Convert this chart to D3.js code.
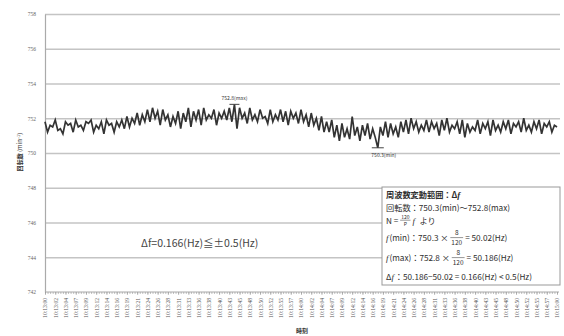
<!DOCTYPE html>
<html><head><meta charset="utf-8">
<script src="https://cdn.jsdelivr.net/npm/d3@7/dist/d3.min.js"></script>
<style>
html,body{margin:0;padding:0;background:#fff;}
svg{display:block;font-family:"Noto Sans CJK JP","Noto Sans",sans-serif;}
</style></head>
<body>
<svg id="c" width="564" height="336"></svg>
<script>
const yTicks = [742, 744, 746, 748, 750, 752, 754, 756, 758];
const xLabels = ["10:13:00","10:13:02","10:13:04","10:13:07","10:13:09","10:13:12","10:13:14","10:13:16","10:13:19","10:13:21","10:13:24","10:13:26","10:13:28","10:13:31","10:13:33","10:13:36","10:13:38","10:13:40","10:13:43","10:13:45","10:13:48","10:13:50","10:13:52","10:13:55","10:13:57","10:14:00","10:14:02","10:14:04","10:14:07","10:14:09","10:14:12","10:14:14","10:14:16","10:14:19","10:14:21","10:14:24","10:14:26","10:14:28","10:14:31","10:14:33","10:14:36","10:14:38","10:14:40","10:14:43","10:14:45","10:14:48","10:14:50","10:14:52","10:14:55","10:14:57","10:15:00"];
const labelStep = 2.4;   // seconds between labels
const sampleStep = 0.6;  // seconds between samples
const rpm = [
751.8,751.2,751.6,751.5,751.9,751.3,751.4,751.1,751.8,751.6,
751.7,751.2,751.9,751.5,751.6,751.3,751.8,751.7,751.9,751.2,
751.6,751.4,751.8,751.1,751.9,751.6,751.7,751.2,751.8,751.5,
751.9,751.4,752.1,751.5,752.0,751.7,752.3,751.6,752.2,751.8,
752.5,751.8,752.6,752.0,752.4,751.6,752.5,751.9,752.2,751.5,
752.1,751.7,752.4,751.4,752.3,751.8,752.6,751.5,752.4,751.9,
752.5,751.6,752.6,751.9,752.2,752.0,752.5,751.6,752.3,752.0,
752.4,751.9,752.6,751.8,752.8,751.4,752.6,752.0,752.3,751.7,
752.6,751.9,752.2,751.8,752.5,752.0,752.1,751.7,752.5,751.8,
752.2,751.9,752.5,751.8,752.4,751.6,752.4,752.0,752.3,751.7,
752.5,751.8,752.2,751.5,752.3,751.6,752.0,751.3,752.1,751.2,
751.8,751.2,751.9,750.9,751.6,750.7,751.7,750.9,751.4,750.8,
752.1,751.0,751.5,750.7,751.6,751.0,751.7,750.8,751.4,750.9,
750.3,751.5,751.0,751.8,750.9,751.7,751.1,751.5,750.9,751.8,
751.2,751.9,751.1,752.0,751.4,751.8,751.2,751.6,751.3,751.9,
751.2,751.8,751.4,751.7,751.0,751.9,751.3,752.0,751.2,751.6,
751.4,751.8,751.1,751.9,750.9,751.7,751.2,751.5,751.3,751.9,
751.1,751.7,751.4,751.8,751.0,751.9,751.3,751.6,751.2,751.8,
751.4,751.9,751.1,751.7,751.5,751.8,751.2,752.0,751.3,751.6,
751.2,751.8,751.4,751.9,751.1,751.7,751.5,751.8,751.2,751.6,
751.5];
const maxVal = 752.8, minVal = 750.3;

const svg = d3.select("#c");
const x = d3.scaleLinear().domain([0, (xLabels.length-1)*labelStep]).range([45, 557]);
const y = d3.scaleLinear().domain([742, 758]).range([292, 14]);

// gridlines
svg.append("g").attr("transform","translate(45,0)")
  .call(d3.axisLeft(y).tickValues(yTicks.slice(1)).tickSize(-515).tickFormat(""))
  .call(g=>g.select(".domain").remove())
  .call(g=>g.selectAll("line").attr("stroke","#c4c4c4").attr("stroke-width",1.4));

// y axis labels
svg.append("g").attr("transform","translate(45,0)")
  .call(d3.axisLeft(y).tickValues(yTicks).tickSize(0).tickPadding(9).tickFormat(d3.format("d")))
  .call(g=>g.select(".domain").attr("stroke","#aaa").attr("stroke-width",1.2))
  .call(g=>g.selectAll("text").attr("fill","#666").attr("font-size",5.5).attr("font-family","Liberation Serif"));

// x axis baseline + minor ticks
const times = rpm.map((d,i)=>i*sampleStep);
svg.append("g").attr("transform",`translate(0,${y(742)})`)
  .call(d3.axisBottom(x).tickValues(times).tickSize(2).tickFormat(""))
  .call(g=>g.select(".domain").attr("stroke","#aaa").attr("stroke-width",1.2).attr("d",`M45,0H559`))
  .call(g=>g.selectAll("line").attr("stroke","#999").attr("stroke-width",0.6));

// x axis labels
svg.append("g").attr("transform",`translate(0,${y(742)})`)
  .call(d3.axisBottom(x).tickValues(xLabels.map((d,i)=>i*labelStep)).tickSize(3).tickFormat((d,i)=>xLabels[i]))
  .call(g=>g.select(".domain").remove())
  .call(g=>g.selectAll("line").attr("stroke","#999").attr("stroke-width",0.6))
  .call(g=>g.selectAll("text").attr("fill","#555").attr("font-size",5.6).attr("font-family","Liberation Serif")
     .attr("text-anchor","end").attr("transform","rotate(-90)").attr("x",-6).attr("y",0).attr("dy","0.35em"));

// data line
svg.append("path").datum(rpm)
  .attr("fill","none").attr("stroke","#333").attr("stroke-width",1.7).attr("stroke-linejoin","miter")
  .attr("d", d3.line().x((d,i)=>x(i*sampleStep)).y(d=>y(d)));

// max / min markers
const iMax = rpm.indexOf(maxVal), iMin = rpm.indexOf(minVal);
svg.append("line").attr("x1",x(iMax*sampleStep)-5).attr("x2",x(iMax*sampleStep)+5)
  .attr("y1",y(maxVal)).attr("y2",y(maxVal)).attr("stroke","#444").attr("stroke-width",1);
svg.append("text").attr("x",x(iMax*sampleStep)).attr("y",y(maxVal)-4).attr("text-anchor","middle")
  .attr("font-size",5).attr("fill","#333").text(maxVal.toFixed(1)+"(max)");
svg.append("line").attr("x1",x(iMin*sampleStep)-6).attr("x2",x(iMin*sampleStep)+6)
  .attr("y1",y(minVal)).attr("y2",y(minVal)).attr("stroke","#444").attr("stroke-width",1);
svg.append("text").attr("x",x(iMin*sampleStep)+6).attr("y",y(minVal)+9).attr("text-anchor","middle")
  .attr("font-size",5).attr("fill","#333").text(minVal.toFixed(1)+"(min)");

// axis titles
const yt = svg.append("text").attr("transform","translate(22,152) rotate(-90)").attr("text-anchor","middle")
  .attr("font-size",6).attr("fill","#333");
yt.append("tspan").attr("font-weight","bold").text("回転数");
yt.append("tspan").text(" (min");
yt.append("tspan").attr("dy",-2).attr("font-size",4).text("−1");
yt.append("tspan").attr("dy",2).text(")");
svg.append("text").attr("x",302).attr("y",333).attr("text-anchor","middle")
  .attr("font-size",6).attr("font-weight","bold").attr("fill","#333").text("時刻");

// main note
svg.append("text").attr("x",141).attr("y",247).attr("font-size",10.5).attr("fill","#444")
  .text("Δf=0.166(Hz)≦±0.5(Hz)");

// annotation box
const bx = svg.append("g");
bx.append("rect").attr("x",382).attr("y",187).attr("width",178).attr("height",98)
  .attr("fill","#fff").attr("stroke","#999").attr("stroke-width",1);
const fs = 8.2, col = "#2e2e2e";
// lay out a row of runs: strings, {it:"f"} italic, {num,den} fractions
function row(x0, yb, runs, bold) {
  let cx = x0;
  runs.forEach(r => {
    if (typeof r === "string" || r.it) {
      const el = bx.append("text").attr("x",cx).attr("y",yb).attr("font-size",fs).attr("fill",col)
        .attr("xml:space","preserve").style("white-space","pre")
        .text(typeof r === "string" ? r : r.it);
      if (bold) el.attr("font-weight","bold");
      if (r.it) el.attr("font-style","italic").attr("font-family","Liberation Serif").attr("font-size",fs+0.6);
      cx += el.node().getComputedTextLength() + (r.it ? 1 : 0);
    } else {
      const fsz = r.small ? 5 : 6.5;
      const up = r.small ? 4.6 : 6, dn = r.small ? 1.6 : 4;
      const n = bx.append("text").attr("y",yb-up).attr("font-size",fsz).attr("fill",col).attr("text-anchor","middle").text(r.num);
      const d = bx.append("text").attr("y",yb+dn).attr("font-size",fsz).attr("fill",col).attr("text-anchor","middle").text(r.den);
      const w = Math.max(n.node().getComputedTextLength(), d.node().getComputedTextLength()) + 2;
      n.attr("x",cx+w/2); d.attr("x",cx+w/2);
      const by = r.small ? yb-3.8 : yb-3.4;
      bx.append("line").attr("x1",cx).attr("x2",cx+w).attr("y1",by).attr("y2",by).attr("stroke",col).attr("stroke-width",0.5);
      cx += w + 2;
    }
  });
}
row(386,198,["周波数変動範囲：Δ",{it:"f"}], true);
row(386,211,["回転数：750.3(min)～752.8(max)"]);
row(386,224,["N = ",{num:"120",den:"P",small:true},{it:"f"},"  より"]);
row(386,241,[{it:"f"},"(min)：750.3 × ",{num:"8",den:"120"},"= 50.02(Hz)"]);
row(386,261,[{it:"f"},"(max)：752.8 × ",{num:"8",den:"120"},"= 50.186(Hz)"]);
row(386,280,["Δ",{it:"f"},"：50.186−50.02 = 0.166(Hz) < 0.5(Hz)"]);
</script>
</body></html>
